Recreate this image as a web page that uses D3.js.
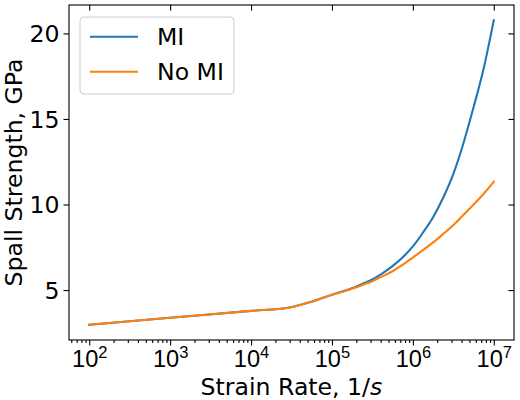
<!DOCTYPE html>
<html>
<head>
<meta charset="utf-8">
<script src="https://cdn.jsdelivr.net/npm/d3@7"></script>
<style>
  body { margin: 0; background: #fff; }
  svg { font-family: "DejaVu Sans", sans-serif; }
</style>
</head>
<body>
<svg id="chart" width="520" height="400"></svg>
<script>
// Strain rate (1/s) and spall strength (GPa)
const strainRate = [1e2, 1e3, 1e4, 3e4, 5.6e4, 1e5, 1.33e5, 1.8e5, 2.4e5, 3.2e5, 4.2e5, 5.6e5, 7.5e5,
                    1e6, 1.33e6, 1.8e6, 2.4e6, 3.2e6, 4.2e6, 5.6e6, 7.5e6, 1e7];
const spallMI    = [2.97, 3.38, 3.78, 3.98, 4.32, 4.72, 4.91, 5.12, 5.37, 5.64, 5.98, 6.4, 6.92,
                    7.55, 8.35, 9.3, 10.45, 11.85, 13.55, 15.65, 17.95, 20.77];
const spallNoMI  = [2.97, 3.38, 3.78, 3.98, 4.32, 4.72, 4.9, 5.09, 5.3, 5.53, 5.8, 6.1, 6.48,
                    6.9, 7.33, 7.8, 8.3, 8.82, 9.38, 9.98, 10.63, 11.33];
const seriesNames = ['MI', 'No MI'];
const seriesColors = ['#1f77b4', '#ff7f0e'];
const xTickExps = [2, 3, 4, 5, 6, 7];
const yTicks = [5, 10, 15, 20];

const FS = 23.6;
const margin = { top: 5, right: 6, bottom: 60, left: 69 };
const width = 520, height = 400;
const innerW = width - margin.left - margin.right;
const innerH = height - margin.top - margin.bottom;

const svg = d3.select('#chart');
const g = svg.append('g').attr('transform', `translate(${margin.left},${margin.top})`);

// matplotlib-like 5% margins
const lx0 = Math.log10(d3.min(strainRate)), lx1 = Math.log10(d3.max(strainRate));
const lpad = (lx1 - lx0) * 0.05;
const xScale = d3.scaleLog()
    .domain([10 ** (lx0 - lpad), 10 ** (lx1 + lpad)])
    .range([0, innerW]);

const allY = spallMI.concat(spallNoMI);
const y0 = d3.min(allY), y1 = d3.max(allY);
const ypad = (y1 - y0) * 0.05;
const yScale = d3.scaleLinear()
    .domain([y0 - ypad, y1 + ypad])
    .range([innerH, 0]);

// minor ticks on the log axis
const minorTicks = [];
for (let e = 1; e <= 7; e++) {
    for (let m = 2; m <= 9; m++) {
        const v = m * 10 ** e;
        if (v >= xScale.domain()[0] && v <= xScale.domain()[1]) minorTicks.push(v);
    }
}

// Bottom axis: major + minor, outward
g.append('g')
    .attr('transform', `translate(0,${innerH})`)
    .call(d3.axisBottom(xScale).tickValues(minorTicks).tickFormat('').tickSize(3).tickSizeOuter(0))
    .call(a => a.select('.domain').remove());

const xAxis = g.append('g')
    .attr('transform', `translate(0,${innerH})`)
    .call(d3.axisBottom(xScale).tickValues(xTickExps.map(e => 10 ** e)).tickFormat('').tickSize(5.5).tickSizeOuter(0));
xAxis.select('.domain').remove();
xAxis.selectAll('.tick').each(function (d, i) {
    const t = d3.select(this).append('text')
        .attr('y', 27)
        .attr('fill', '#000')
        .attr('text-anchor', 'middle')
        .style('font-size', FS + 'px');
    t.append('tspan').text('10');
    t.append('tspan').attr('dy', -9).style('font-size', (FS * 0.7) + 'px').text(xTickExps[i]);
});

// Top axis: majors, inward
g.append('g')
    .call(d3.axisTop(xScale).tickValues(xTickExps.map(e => 10 ** e)).tickFormat('').tickSize(-5.5).tickSizeOuter(0))
    .call(a => a.select('.domain').remove());

// Left axis, outward
const yAxis = g.append('g')
    .call(d3.axisLeft(yScale).tickValues(yTicks).tickSize(5.5).tickPadding(4).tickSizeOuter(0));
yAxis.select('.domain').remove();
yAxis.selectAll('text')
    .attr('fill', '#000')
    .style('font-size', FS + 'px')
    .style('font-family', '"DejaVu Sans", sans-serif')
    .attr('dy', '0.36em');

// Right axis, inward
g.append('g')
    .attr('transform', `translate(${innerW},0)`)
    .call(d3.axisRight(yScale).tickValues(yTicks).tickFormat('').tickSize(-5.5).tickSizeOuter(0))
    .call(a => a.select('.domain').remove());

g.selectAll('.tick line').attr('stroke', '#000').attr('stroke-width', 1.1);

// Lines
const line = d3.line()
    .x((d, i) => xScale(strainRate[i]))
    .y(d => yScale(d))
    .curve(d3.curveMonotoneX);

[spallMI, spallNoMI].forEach((s, k) => {
    g.append('path')
        .datum(s)
        .attr('fill', 'none')
        .attr('stroke', seriesColors[k])
        .attr('stroke-width', 2.1)
        .attr('stroke-linejoin', 'round')
        .attr('stroke-linecap', 'square')
        .attr('d', line);
});

// Frame
g.append('rect')
    .attr('width', innerW)
    .attr('height', innerH)
    .attr('fill', 'none')
    .attr('stroke', '#000')
    .attr('stroke-width', 1.1);

// Axis labels
const xl = svg.append('text')
    .attr('x', margin.left + innerW / 2)
    .attr('y', 395)
    .attr('text-anchor', 'middle')
    .style('font-size', FS + 'px');
xl.append('tspan').text('Strain Rate, 1/');
xl.append('tspan').style('font-style', 'italic').text('s');

svg.append('text')
    .attr('transform', `translate(22,${margin.top + innerH / 2}) rotate(-90)`)
    .attr('text-anchor', 'middle')
    .style('font-size', FS + 'px')
    .text('Spall Strength, GPa');

// Legend
const lg = svg.append('g').attr('transform', 'translate(80,17)');
lg.append('rect')
    .attr('width', 154)
    .attr('height', 77)
    .attr('rx', 4)
    .attr('fill', '#fff')
    .attr('fill-opacity', 0.8)
    .attr('stroke', '#cccccc')
    .attr('stroke-width', 1);
seriesNames.forEach((name, k) => {
    const yy = 19.7 + k * 35;
    lg.append('line')
        .attr('x1', 10).attr('x2', 58)
        .attr('y1', yy).attr('y2', yy)
        .attr('stroke', seriesColors[k])
        .attr('stroke-width', 2.1);
    lg.append('text')
        .attr('x', 77)
        .attr('y', yy + 8.5)
        .style('font-size', FS + 'px')
        .text(name);
});
</script>
</body>
</html>
